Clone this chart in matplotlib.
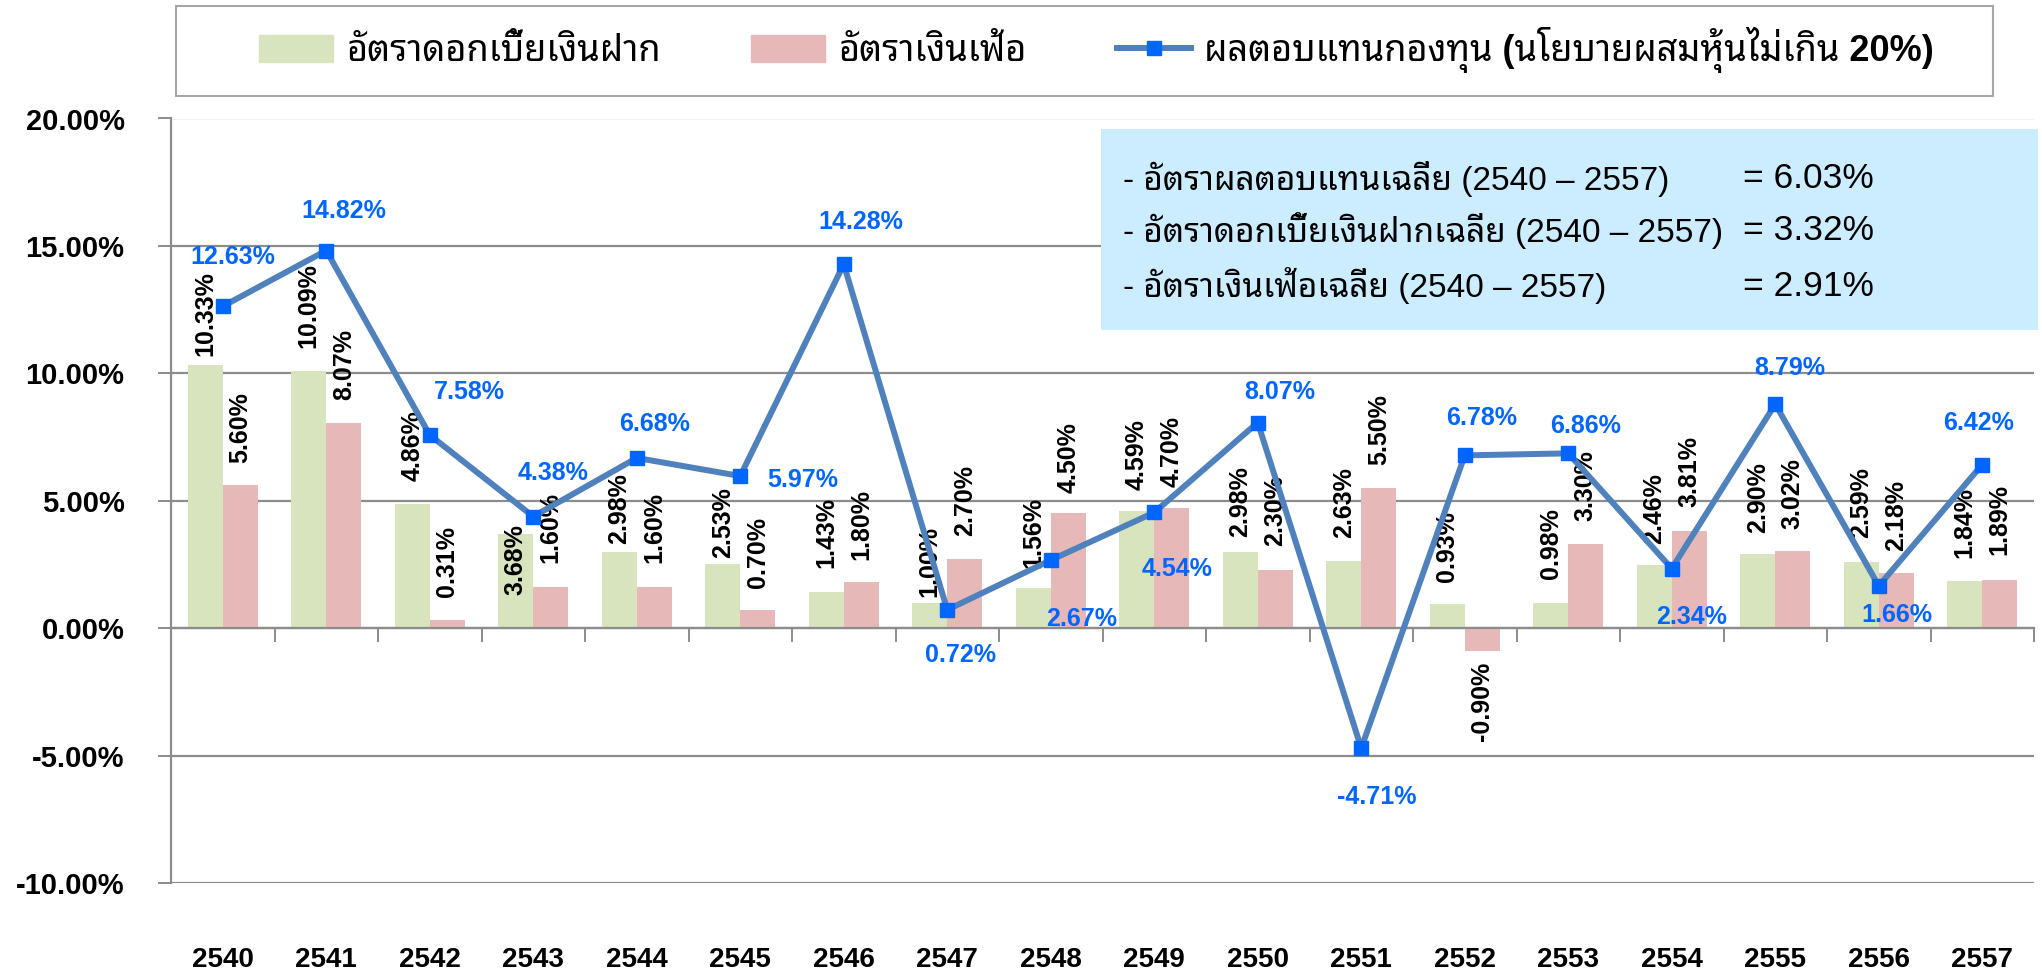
import matplotlib
matplotlib.use('Agg')
import matplotlib.pyplot as plt
import matplotlib.transforms as mtransforms
from matplotlib.patches import Rectangle, Patch
from matplotlib.lines import Line2D
import numpy as np

# Latin text in Arial-like font, Thai glyphs fall through to a Thai family
plt.rcParams['font.family'] = ['Liberation Sans', 'Noto Sans Thai Looped', 'Noto Sans Thai',
                               'IBM Plex Sans Thai Looped', 'DejaVu Sans']

years = ['2540', '2541', '2542', '2543', '2544', '2545', '2546', '2547', '2548',
         '2549', '2550', '2551', '2552', '2553', '2554', '2555', '2556', '2557']
deposit_rate = [10.33, 10.09, 4.86, 3.68, 2.98, 2.53, 1.43, 1.00, 1.56,
                4.59, 2.98, 2.63, 0.93, 0.98, 2.46, 2.90, 2.59, 1.84]
inflation_rate = [5.60, 8.07, 0.31, 1.60, 1.60, 0.70, 1.80, 2.70, 4.50,
                  4.70, 2.30, 5.50, -0.90, 3.30, 3.81, 3.02, 2.18, 1.89]
fund_return = [12.63, 14.82, 7.58, 4.38, 6.68, 5.97, 14.28, 0.72, 2.67,
               4.54, 8.07, -4.71, 6.78, 6.86, 2.34, 8.79, 1.66, 6.42]

series_names = ['อัตราดอกเบี้ยเงินฝาก', 'อัตราเงินเฟ้อ',
                'ผลตอบแทนกองทุน (นโยบายผสมหุ้นไม่เกิน 20%)']
avg_labels = ['- อัตราผลตอบแทนเฉลี่ย (2540 – 2557)',
              '- อัตราดอกเบี้ยเงินฝากเฉลี่ย (2540 – 2557)',
              '- อัตราเงินเฟ้อเฉลี่ย (2540 – 2557)']
avg_values = [6.03, 3.32, 2.91]

# label placement (pixels)
fund_offsets = [(10, 49), (18, 40), (40, 43), (20, 44), (18, 34), (63, -4), (17, 42), (13, -45), (31, -59),
                (23, -57), (22, 31), (15, -49), (17, 37), (17, 27), (20, -48), (14, 36), (18, -29), (-4, 42)]
green_gap = [9, 23, 23, -61, 8, 6, 24, 6, 20, 21, 15, 23, 22, 24, 21, 21, 24, 23]
pink_gap = [22, 23, 23, 24, 24, 22, 22, 23, 20, 21, 24, 23, 11, 23, 24, 22, 22, 25]

GREEN = '#D7E4BD'
PINK = '#E6B9B8'
LINE = '#4F81BD'
MARK = '#0066FF'
GRID = '#8C8C8C'

fig = plt.figure(figsize=(20.42, 9.73), dpi=100)
ax = fig.add_axes([171 / 2042, 1 - 883 / 973, 1863 / 2042, (883 - 118.5) / 973])

x = np.arange(len(years))
w = 0.34
ax.bar(x - w / 2, deposit_rate, w, color=GREEN, zorder=2)
ax.bar(x + w / 2, inflation_rate, w, color=PINK, zorder=2)
ax.plot(x, fund_return, color=LINE, lw=4.3, marker='s', ms=10.5,
        mfc=MARK, mec=MARK, zorder=4)

for i in range(len(years)):
    for xv, v, gap in ((x[i] - w / 2, deposit_rate[i], green_gap[i]),
                       (x[i] + w / 2, inflation_rate[i], pink_gap[i])):
        if v >= 0:
            ax.annotate(f'{v:.2f}%', (xv, v), xytext=(0, gap), textcoords='offset pixels',
                        rotation=90, ha='center', va='bottom', fontsize=18,
                        fontweight='bold', zorder=3)
        else:
            ax.annotate(f'{v:.2f}%', (xv, v), xytext=(0, -gap), textcoords='offset pixels',
                        rotation=90, ha='center', va='top', fontsize=18,
                        fontweight='bold', zorder=3)
    dx, dy = fund_offsets[i]
    ax.annotate(f'{fund_return[i]:.2f}%', (x[i], fund_return[i]), xytext=(dx, dy),
                textcoords='offset pixels', ha='center', va='center', fontsize=18,
                fontweight='bold', color=MARK, zorder=5)

ax.set_xlim(-0.5, len(years) - 0.5)
ax.set_ylim(-10, 20)
ax.set_yticks(np.arange(-10, 21, 5))
ax.set_yticklabels([f'{t:.2f}%' for t in np.arange(-10, 21, 5)], fontsize=21, fontweight='bold')
ax.yaxis.grid(True, color=GRID, lw=1.6, zorder=1)
ax.set_axisbelow(True)
ax.tick_params(axis='y', length=9.4, width=1.4, color=GRID, pad=24)

ax.spines['top'].set_visible(False)
ax.spines['right'].set_visible(False)
ax.spines['left'].set_color(GRID)
ax.spines['left'].set_linewidth(1.6)
ax.spines['bottom'].set_position(('data', 0))
ax.spines['bottom'].set_color(GRID)
ax.spines['bottom'].set_linewidth(1.6)
ax.spines['bottom'].set_zorder(2.5)
ax.set_xticks(np.arange(0.5, len(years), 1))
ax.set_xticklabels([])
ax.tick_params(axis='x', length=10, width=1.4, color=GRID, direction='out')

trans = mtransforms.blended_transform_factory(ax.transData, fig.transFigure)
for i, y in enumerate(years):
    ax.text(x[i], 1 - 960 / 973, y, transform=trans, ha='center', va='center',
            fontsize=20, fontweight='bold')

# legend with its own frame
fig.add_artist(Rectangle((176 / 2042, 1 - 96 / 973), (1993 - 176) / 2042, 90 / 973,
                         transform=fig.transFigure, fill=False, edgecolor='#A6A6A6', lw=1.5))
handles = [Patch(color=GREEN), Patch(color=PINK),
           Line2D([], [], color=LINE, lw=4.3, marker='s', ms=10.5, mfc=MARK, mec=MARK)]
fig.legend(handles, series_names, loc='center', bbox_to_anchor=(0.537, 1 - 50 / 973), ncol=3,
           frameon=False, prop={'size': 26, 'weight': 'bold'}, handlelength=2.05,
           handleheight=0.78, handletextpad=0.36, columnspacing=2.5)

# averages box
fig.add_artist(Rectangle((1101 / 2042, 1 - 330 / 973), (2038 - 1101) / 2042, 201 / 973,
                         transform=fig.transFigure, facecolor='#CCECFF', edgecolor='none', zorder=6))
for j, (lab, val) in enumerate(zip(avg_labels, avg_values)):
    yy = 1 - [179, 231, 286][j] / 973
    fig.text(1123 / 2042, yy, lab, ha='left', va='center', fontsize=24, zorder=7)
    fig.text(1743 / 2042, yy, f'= {val:.2f}%', ha='left', va='center', fontsize=25.5, zorder=7)

fig.savefig('out.png', dpi=100)
